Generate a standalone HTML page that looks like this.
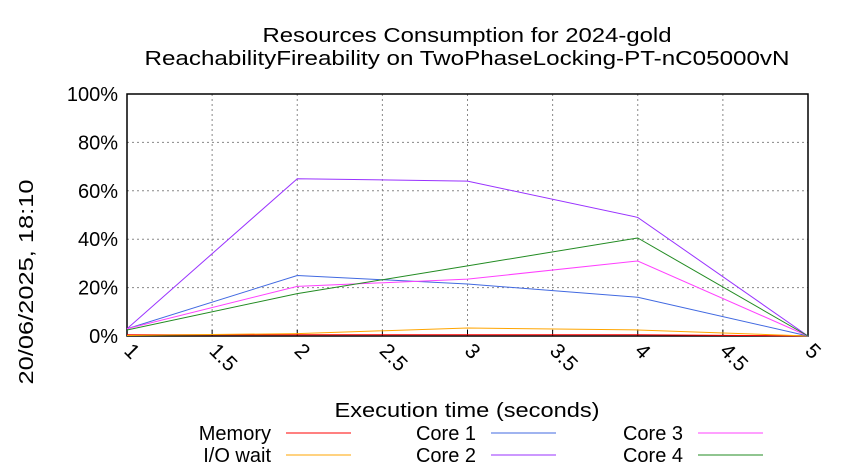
<!DOCTYPE html>
<html><head><meta charset="utf-8"><style>
body{margin:0;background:#fff}
svg{display:block;font-family:"Liberation Sans",sans-serif}
</style></head><body>
<svg id="chart" width="850" height="475" viewBox="0 0 850 475">
<text x="467" y="42" font-size="20" text-anchor="middle" textLength="409" lengthAdjust="spacingAndGlyphs">Resources Consumption for 2024-gold</text>
<text x="467" y="65" font-size="20" text-anchor="middle" textLength="645" lengthAdjust="spacingAndGlyphs">ReachabilityFireability on TwoPhaseLocking-PT-nC05000vN</text>
<text transform="translate(33,282) rotate(-90)" font-size="20" text-anchor="middle" textLength="205" lengthAdjust="spacingAndGlyphs">20/06/2025, 18:10</text>
<text x="467" y="417" font-size="20" text-anchor="middle" textLength="265" lengthAdjust="spacingAndGlyphs">Execution time (seconds)</text>
<g id="grid"></g><g id="axes"></g><g id="series"></g><g id="legend"></g>
</svg>
<script>
const xTicks=[1,1.5,2,2.5,3,3.5,4,4.5,5];
const xTickLabels=["1","1.5","2","2.5","3","3.5","4","4.5","5"];
const yTicks=[0,20,40,60,80,100];
const yTickLabels=["0%","20%","40%","60%","80%","100%"];
const times=[1,2,3,4,5];
const memory=[0.5,0.5,0.5,0.5,0];
const ioWait=[0.2,1,3.3,2.5,0];
const core1=[3,25,21.5,16,0];
const core2=[3,65,64,49,0];
const core3=[3,20.5,23.5,31,0];
const core4=[2.5,17.5,29,40.5,0];
const seriesNames=["Memory","I/O wait","Core 1","Core 2","Core 3","Core 4"];
const seriesColors=["#ff0000","#ffa500","#4169e1","#9932ff","#ff40ff","#228b22"];
const seriesData=[memory,ioWait,core1,core2,core3,core4];
const X0=127,X1=808,Y0=336,Y1=94;
const xs=v=>X0+(v-1)/4*(X1-X0);
const ys=v=>Y0-v/100*(Y0-Y1);
const NS="http://www.w3.org/2000/svg";
function mk(tag,attrs,parent){const e=document.createElementNS(NS,tag);for(const k in attrs)e.setAttribute(k,attrs[k]);parent.appendChild(e);return e;}
const grid=document.getElementById('grid'),axes=document.getElementById('axes'),ser=document.getElementById('series'),leg=document.getElementById('legend');
xTicks.forEach((t,i)=>{
 const x=xs(t);
 if(i>0&&i<xTicks.length-1){const l=mk('line',{x1:x,y1:Y1,x2:x,y2:Y0,stroke:'#888','stroke-dasharray':'2,3','stroke-width':1},grid);
 
 }
 const tk=mk('line',{x1:x,y1:Y0,x2:x,y2:Y0-6,stroke:'#000'},axes);
 
 
 const tx=mk('text',{x:0,y:0,'font-size':21,transform:`translate(${x-4},${Y0+16}) rotate(45)`},axes);
 tx.textContent=xTickLabels[i];
 
 
});
yTicks.forEach((t,i)=>{
 const y=ys(t);
 if(i>0&&i<yTicks.length-1){const l=mk('line',{x1:X0,y1:y,x2:X1,y2:y,stroke:'#888','stroke-dasharray':'2,3','stroke-width':1},grid);
 
 }
 const tx=mk('text',{x:X0-9,y:y+7,'font-size':20,'text-anchor':'end'},axes);
 tx.textContent=yTickLabels[i];
 
 
});
const fr=mk('rect',{x:X0,y:Y1,width:X1-X0,height:Y0-Y1,fill:'none',stroke:'#000','stroke-width':1.5},axes);


seriesData.forEach((d,si)=>{
 const p=mk('polyline',{points:d.map((v,i)=>xs(times[i])+','+ys(v)).join(' '),fill:'none',stroke:seriesColors[si],'stroke-width':1},ser);
 
 
});
const legPos=[[271,440],[271,462],[476,440],[476,462],[683,440],[683,462]];
seriesNames.forEach((n,i)=>{
 const [x,y]=legPos[i];
 const g=mk('g',{},leg);
 
 
 const t=mk('text',{x:x,y:y,'font-size':20,'text-anchor':'end'},g);t.textContent=n;
 mk('line',{x1:x+15,y1:y-7,x2:x+80,y2:y-7,stroke:seriesColors[i],'stroke-width':1},g);
});
</script>
</body></html>
